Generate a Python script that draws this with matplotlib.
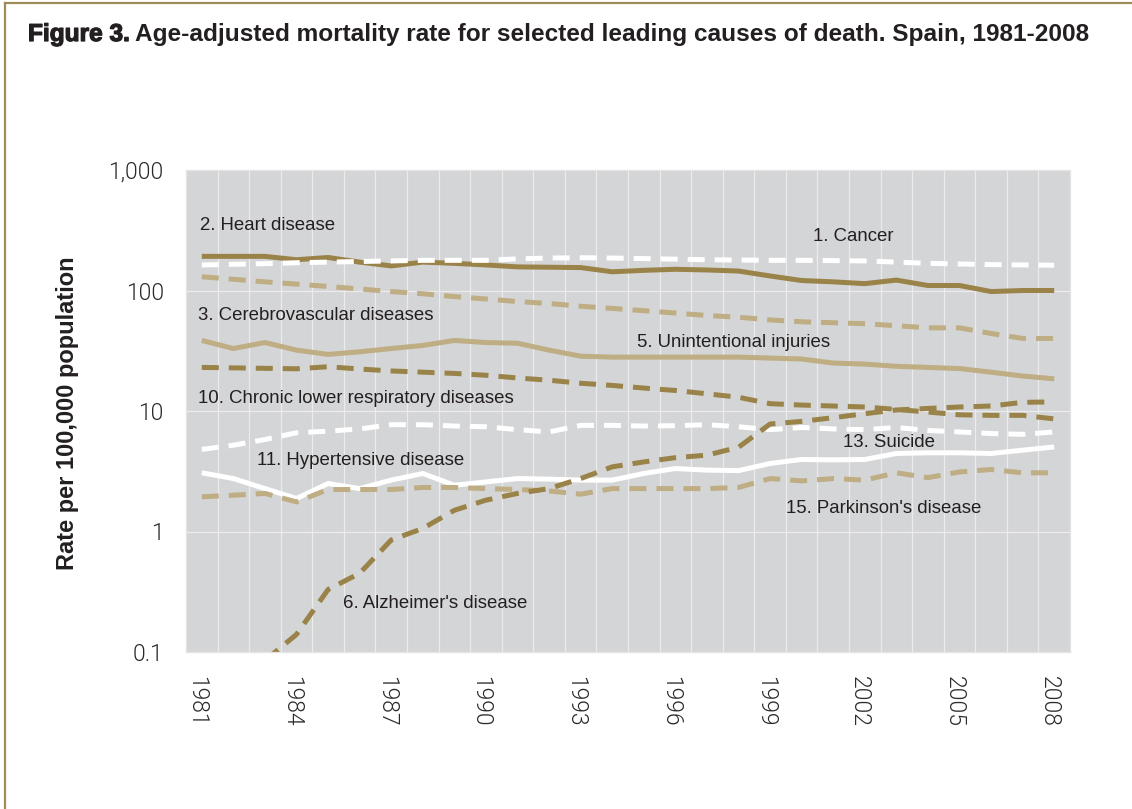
import numpy as np
import matplotlib
matplotlib.use('Agg')
import matplotlib.pyplot as plt
import matplotlib.patheffects as pe
import matplotlib.transforms as mtransforms
from matplotlib.ticker import FixedLocator, NullFormatter

years = list(range(1981, 2009))

cancer = [163, 165, 167, 170, 172, 174, 176, 178, 178, 178, 183, 186, 187, 186,
          184, 182, 180, 179, 178, 178, 177, 176, 172, 168, 166, 164, 163, 162]
heart = [192, 192, 192, 180, 188, 172, 160, 172, 168, 163, 157, 156, 155, 143,
         147, 150, 148, 145, 132, 121, 118, 114, 122, 110, 110, 98, 100, 100]
cerebro = [130, 124, 118, 113, 108, 103, 98, 94, 89, 85, 81, 78, 74, 71,
           68, 65, 62, 60, 57, 55, 54, 53, 51, 49, 49, 44, 40, 40]
injuries = [38.5, 33, 37, 32, 29.5, 31, 33, 35, 38.5, 37, 36.5, 32, 28.5, 28,
            28, 28, 28, 28, 27.5, 27, 25, 24.5, 23.5, 23, 22.5, 21, 19.5, 18.5]
alzheimer = [np.nan, np.nan, 0.085, 0.14, 0.33, 0.45, 0.85, 1.06, 1.5, 1.82, 2.07, 2.27, 2.75, 3.44,
             3.78, 4.1, 4.3, 5.0, 7.8, 8.2, 8.8, 9.5, 10.2, 10.5, 10.8, 11.0, 11.8, 11.9]
clrd = [23, 22.8, 22.6, 22.4, 23.3, 22.3, 21.5, 21, 20.5, 19.8, 18.8, 18, 17, 16.3,
        15.5, 14.8, 13.9, 13, 11.5, 11.2, 11, 10.8, 10.3, 9.8, 9.3, 9.2, 9.2, 8.6]
hypertensive = [3.07, 2.75, 2.27, 1.88, 2.5, 2.27, 2.67, 3.03, 2.42, 2.58, 2.75, 2.72, 2.67, 2.67,
                3.03, 3.33, 3.23, 3.2, 3.67, 3.96, 3.93, 3.96, 4.44, 4.5, 4.5, 4.44, 4.73, 5.03]
suicide = [4.8, 5.2, 5.8, 6.6, 6.8, 7.1, 7.7, 7.7, 7.5, 7.4, 7.0, 6.7, 7.6, 7.6,
           7.5, 7.55, 7.7, 7.4, 7.0, 7.3, 7.1, 7.0, 7.3, 6.9, 6.7, 6.5, 6.4, 6.7]
parkinson = [1.94, 2.0, 2.07, 1.76, 2.23, 2.23, 2.23, 2.32, 2.32, 2.27, 2.23, 2.17, 2.04, 2.27,
             2.27, 2.27, 2.27, 2.32, 2.75, 2.63, 2.75, 2.67, 3.07, 2.8, 3.12, 3.27, 3.07, 3.07]

tick_years = list(range(1981, 2009, 3))
y_ticks = [0.1, 1, 10, 100, 1000]
y_tick_labels = ['0.1', '1', '10', '100', '1,000']

DARK = '#9a8348'
LIGHT = '#bfad83'
WHITE = '#ffffff'
TEXT = '#231f20'

fig = plt.figure(figsize=(11.32, 8.09), dpi=100)
ax = fig.add_axes([186 / 1132, 1 - 652 / 809, 884 / 1132, 482 / 809])
ax.set_facecolor('#d4d5d7')

lw = 3.6
dash = (3.4, 2.0)
series = [
    (heart, DARK, '-'),
    (cancer, WHITE, '--'),
    (cerebro, LIGHT, '--'),
    (injuries, LIGHT, '-'),
    (clrd, DARK, '--'),
    (suicide, WHITE, '--'),
    (hypertensive, WHITE, '-'),
    (parkinson, LIGHT, '--'),
    (alzheimer, DARK, '--'),
]
for vals, col, ls in series:
    line, = ax.plot(years, vals, color=col, lw=lw, solid_capstyle='butt',
                    dash_capstyle='butt', solid_joinstyle='miter')
    if ls == '--':
        line.set_dashes(dash)

ax.set_yscale('log')
ax.set_ylim(0.1, 1000)
ax.set_xlim(1980.5, 2008.5)

ax.yaxis.set_major_locator(FixedLocator(y_ticks))
ax.set_yticklabels(y_tick_labels)
ax.yaxis.set_minor_locator(FixedLocator([]))
ax.set_xticks(tick_years)
ax.set_xticklabels([str(y) for y in tick_years], rotation=270)
ax.xaxis.set_minor_locator(FixedLocator(np.arange(1980.5, 2009, 1.0)))
ax.xaxis.set_minor_formatter(NullFormatter())

ax.grid(False)
ax.grid(axis='y', which='major', color='#ececec', lw=0.9)
ax.grid(axis='x', which='minor', color='#ececec', lw=0.9)
ax.tick_params(axis='both', which='both', length=0)
ax.tick_params(axis='y', pad=16)
ax.tick_params(axis='x', pad=17)
shift = mtransforms.ScaledTranslation(-5 / 100, 0, fig.dpi_scale_trans)
for lab in ax.get_xticklabels() + ax.get_yticklabels():
    lab.set_family(['Roboto', 'Liberation Sans', 'DejaVu Sans'])
    lab.set_fontweight(300)
    lab.set_fontsize(16.5)
    lab.set_color('#2a2a2a')
for lab in ax.get_xticklabels():
    lab.set_va('top')
    lab.set_transform(lab.get_transform() + shift)
for sp in ax.spines.values():
    sp.set_color('#e4e4e4')
    sp.set_linewidth(0.9)

label_font = dict(fontsize=13.4, color=TEXT, family=['Liberation Sans', 'DejaVu Sans'],
                  va='center', ha='left')
labels = [
    ('2. Heart disease', 1980.94, 346),
    ('1. Cancer', 2000.37, 281),
    ('3. Cerebrovascular diseases', 1980.88, 62),
    ('5. Unintentional injuries', 1994.77, 37.1),
    ('10. Chronic lower respiratory diseases', 1980.88, 12.7),
    ('11. Hypertensive disease', 1982.75, 3.9),
    ('13. Suicide', 2001.32, 5.5),
    ("15. Parkinson's disease", 1999.51, 1.56),
    ("6. Alzheimer's disease", 1985.47, 0.255),
]
for txt, x, y in labels:
    ax.text(x, y, txt, **label_font)

fig.text(68 / 1132, 1 - 413 / 809, 'Rate per 100,000 population', rotation=90,
         ha='center', va='center', fontsize=17, fontweight='bold', color=TEXT,
         family=['Liberation Sans', 'DejaVu Sans'])

# title
t1 = fig.text(28 / 1132, 1 - 46 / 809, 'Figure 3.', fontsize=17.6, fontweight='bold',
              color=TEXT, family=['Liberation Sans', 'DejaVu Sans'], va='bottom',
              path_effects=[pe.Stroke(linewidth=0.9, foreground=TEXT), pe.Normal()])
ax.annotate('Age-adjusted mortality rate for selected leading causes of death. Spain, 1981-2008',
            xy=(1, 0), xycoords=t1, xytext=(4, 0), textcoords='offset points',
            fontsize=17.6, fontweight='bold', color=TEXT,
            family=['Liberation Sans', 'DejaVu Sans'], va='bottom', ha='left',
            annotation_clip=False)

# figure border (left and top)
fig.add_artist(plt.Line2D([5 / 1132, 5 / 1132], [0, 1 - 2.5 / 809], color='#a08c5a', lw=1.6,
                          transform=fig.transFigure))
fig.add_artist(plt.Line2D([5 / 1132, 1], [1 - 2.5 / 809, 1 - 2.5 / 809], color='#a08c5a', lw=1.6,
                          transform=fig.transFigure))

fig.savefig('out.png', dpi=100)
